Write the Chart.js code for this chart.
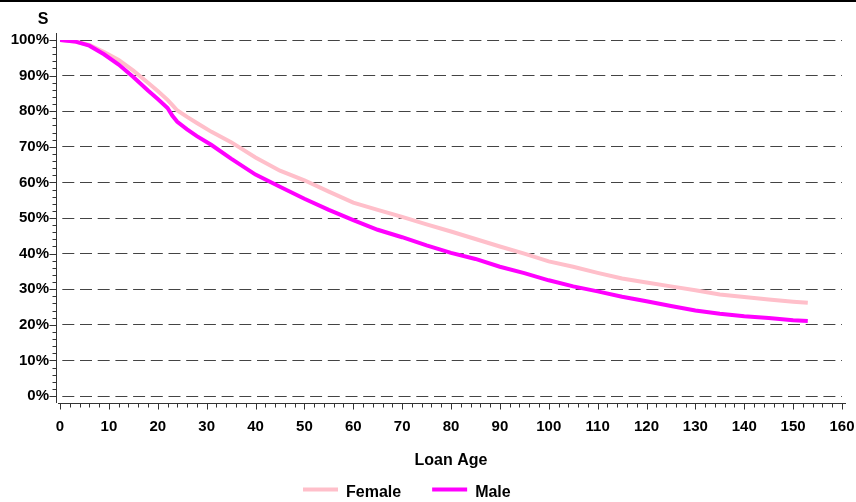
<!DOCTYPE html>
<html>
<head>
<meta charset="utf-8">
<script src="https://cdn.jsdelivr.net/npm/chart.js@4/dist/chart.umd.min.js"></script>
<style>
  html, body { margin: 0; padding: 0; background: #fff; }
  #wrap { width: 856px; height: 502px; position: relative; }
</style>
</head>
<body>
<div id="wrap"><canvas id="c" width="856" height="502"></canvas></div>
<script>
// Survival curves (S, in %) by loan age, for female and male borrowers
const loanAge = [0, 3, 6, 9, 12, 15, 18, 20, 22, 23, 24, 26, 28, 31, 35, 40, 45, 50, 55, 60,
                 65, 70, 75, 80, 85, 90, 95, 100, 105, 110, 115, 120, 125, 130, 135, 140, 145, 150, 153];
const female = [100, 99.6, 98.6, 96.6, 94.4, 91.4, 88.0, 85.7, 83.2, 81.7, 80.2, 78.4, 76.7, 74.2, 71.3, 67.0,
                63.3, 60.6, 57.4, 54.3, 52.3, 50.3, 48.2, 46.2, 44.1, 42.0, 40.0, 37.8, 36.3, 34.6,
                33.0, 31.9, 30.8, 29.7, 28.5, 27.8, 27.1, 26.5, 26.2];
const male = [100, 99.6, 98.4, 96.0, 93.1, 89.6, 85.8, 83.4, 80.9, 78.7, 77.0, 74.9, 73.0, 70.5, 66.7, 62.2,
              58.8, 55.4, 52.3, 49.4, 46.7, 44.6, 42.3, 40.2, 38.5, 36.3, 34.5, 32.5, 30.8, 29.4,
              27.9, 26.6, 25.3, 24.0, 23.1, 22.4, 21.9, 21.3, 21.1];
const xTicks = { min: 0, max: 160, step: 10, minorStep: 2 };
const yTicks = { min: 0, max: 100, step: 10, minorStep: 2 };

const FONT = '"Liberation Sans", Arial, Helvetica, sans-serif';
const PINK = '#FFBFCA';
const MAGENTA = '#FF00FF';

function pairs(xs, ys) { return xs.map((x, i) => ({ x: x, y: ys[i] })); }

// Axis lines with major and minor tick marks, the top rule, the "S" label and the legend
const decorations = {
  id: 'decorations',
  afterDraw(chart) {
    const ctx = chart.ctx;
    const xs = chart.scales.x, ys = chart.scales.y;
    const a = chart.chartArea;
    ctx.save();
    // top rule
    ctx.fillStyle = '#000';
    ctx.fillRect(0, 0, chart.width, 2);

    ctx.strokeStyle = '#333';
    ctx.lineWidth = 1;
    // vertical axis
    const ax = a.left - 3.5;
    ctx.beginPath();
    ctx.moveTo(ax, a.top - 7);
    ctx.lineTo(ax, a.bottom + 7);
    for (let v = yTicks.min; v <= yTicks.max + 1e-9; v += yTicks.minorStep) {
      const py = Math.round(ys.getPixelForValue(v)) + 0.5;
      const major = Math.abs(v / yTicks.step - Math.round(v / yTicks.step)) < 1e-6;
      ctx.moveTo(ax, py);
      ctx.lineTo(ax - (major ? 7 : 4), py);
    }
    ctx.stroke();
    // horizontal axis
    const ay = a.bottom + 7.5;
    ctx.beginPath();
    ctx.moveTo(a.left - 2, ay);
    ctx.lineTo(a.right + 4, ay);
    for (let v = xTicks.min; v <= xTicks.max + 1e-9; v += xTicks.minorStep) {
      const px = Math.round(xs.getPixelForValue(v)) + 0.5;
      const major = Math.abs(v / xTicks.step - Math.round(v / xTicks.step)) < 1e-6;
      ctx.moveTo(px, ay);
      ctx.lineTo(px, ay + (major ? 6 : 4));
    }
    ctx.stroke();

    // "S" label above the vertical axis
    ctx.fillStyle = '#000';
    ctx.font = 'bold 16px ' + FONT;
    ctx.textAlign = 'center';
    ctx.textBaseline = 'middle';
    ctx.fillText('S', 43, 20);

    // legend
    const items = chart.data.datasets.slice().sort((p, q) => p.legendIndex - q.legendIndex);
    let x = 303;
    const ly = 489.5;
    ctx.textAlign = 'left';
    items.forEach(ds => {
      ctx.fillStyle = ds.borderColor;
      ctx.fillRect(x, ly - 2, 35, 4);
      ctx.fillStyle = '#000';
      ctx.fillText(ds.label, x + 43, ly + 3);
      x += 43 + ctx.measureText(ds.label).width + 31;
    });
    ctx.restore();
  }
};

new Chart(document.getElementById('c'), {
  type: 'line',
  data: {
    datasets: [
      { label: 'Female', data: pairs(loanAge, female), borderColor: PINK, backgroundColor: PINK,
        borderWidth: 4, pointRadius: 0, tension: 0, order: 2, legendIndex: 0 },
      { label: 'Male', data: pairs(loanAge, male), borderColor: MAGENTA, backgroundColor: MAGENTA,
        borderWidth: 4, pointRadius: 0, tension: 0, order: 1, legendIndex: 1 }
    ]
  },
  options: {
    responsive: false,
    animation: false,
    events: [],
    layout: { padding: { top: 40, right: 14, left: 0, bottom: 0 } },
    plugins: { legend: { display: false }, tooltip: { enabled: false }, title: { display: false } },
    scales: {
      x: {
        type: 'linear',
        min: xTicks.min, max: xTicks.max,
        afterFit(s) { s.height = 106; s.paddingLeft = 0; s.paddingRight = 0; },
        ticks: { stepSize: xTicks.step, color: '#000', padding: 22,
                 font: { family: FONT, size: 15, weight: 'bold' } },
        grid: { display: false, drawTicks: false },
        border: { display: false },
        title: { display: true, text: 'Loan Age', color: '#000',
                 font: { family: FONT, size: 16, weight: 'bold' },
                 padding: { top: 0, bottom: 32 } }
      },
      y: {
        min: yTicks.min, max: yTicks.max,
        afterFit(s) { s.width = 60; s.paddingTop = 0; s.paddingBottom = 0; },
        ticks: { stepSize: yTicks.step, color: '#000', padding: 11,
                 font: { family: FONT, size: 15, weight: 'bold' },
                 callback: v => v + '%' },
        grid: { color: '#444', lineWidth: 1, drawTicks: false },
        border: { display: false, dash: [12, 5.7], dashOffset: 15.4 }
      }
    }
  },
  plugins: [decorations]
});
</script>
</body>
</html>
